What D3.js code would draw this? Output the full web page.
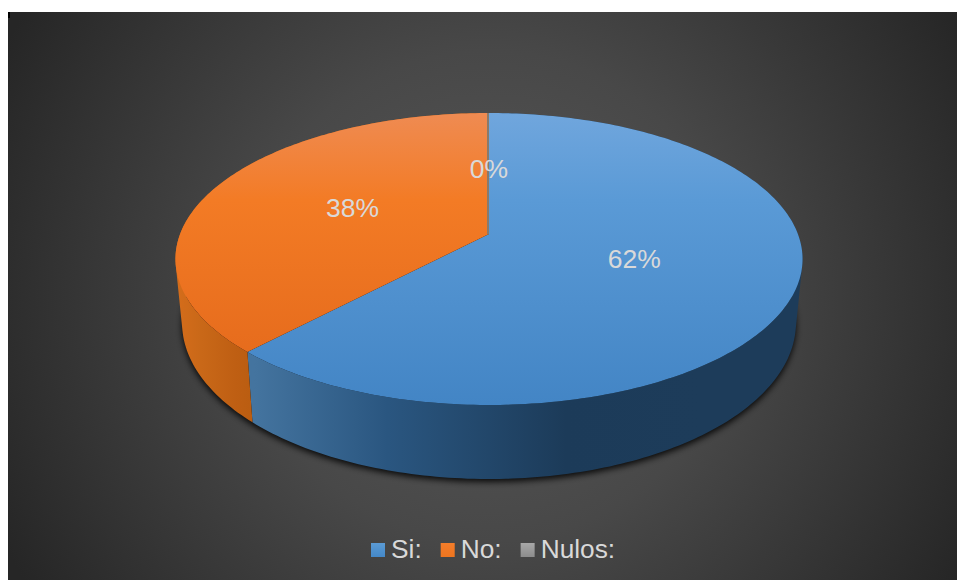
<!DOCTYPE html>
<html>
<head>
<meta charset="utf-8">
<script src="https://cdn.jsdelivr.net/npm/d3@7"></script>
<style>
  html, body { margin: 0; padding: 0; background: #fff; }
  svg { display: block; }
  text { font-family: "Liberation Sans", Arial, sans-serif; fill: #d9d9d9; }
</style>
</head>
<body>
<svg id="chart" width="957" height="580"></svg>
<script>
// Vote shares
const categories = ["Si:", "No:", "Nulos:"];
const shares = [62, 38, 0];
const shareLabels = ["62%", "38%", "0%"];

// Face and wall shades for each category
const swatchTop = ["#5b9bd5", "#f47d2a", "#a8a8a8"];
const swatchBottom = ["#4488c8", "#ee751f", "#8c8c8c"];
const faceStops = [
  ["#70a6dd", "#5a9ad6", "#4385c5"],
  ["#ef8b52", "#f37b25", "#e2671a"],
  ["#8a7a6a", "#8a7a6a", "#8a7a6a"]
];
const wallStops = [
  ["#44749f", "#2a5680", "#1c3b59", "#1d3c5a"],
  ["#d56d1b", "#c96818", "#bf5f13", "#b85c10"],
  ["#777777", "#777777", "#777777", "#777777"]
];

const width = 957, height = 580;
const svg = d3.select("#chart");
const defs = svg.append("defs");

// Perspective projection of a unit disc, for the upper rim and the lower rim
const cx = 489, tilt = 0.1712;
const upper = { k: 308.9, b: 234, c: -101.65 };
const lower = { k: 302.4, b: 296, c: -101 };
function project(disc, angle, r) {
  const u = r * Math.sin(angle), v = r * Math.cos(angle);
  const w = 1 + tilt * v;
  return [cx + disc.k * u / w, (disc.b + disc.c * v) / w];
}
const line = d3.line();
const step = Math.PI / 180;
const arcAngles = (a0, a1) => {
  const n = Math.max(1, Math.ceil((a1 - a0) / step));
  return d3.range(n + 1).map(i => a0 + (a1 - a0) * i / n);
};

// Backdrop
const glow = defs.append("radialGradient").attr("id", "backdrop")
  .attr("gradientUnits", "userSpaceOnUse")
  .attr("cx", 489).attr("cy", 296).attr("r", 545);
glow.append("stop").attr("offset", 0).attr("stop-color", "#585858");
glow.append("stop").attr("offset", 0.45).attr("stop-color", "#484848");
glow.append("stop").attr("offset", 1).attr("stop-color", "#262626");
svg.append("rect").attr("x", 8).attr("y", 12)
  .attr("width", width - 8).attr("height", height - 12)
  .attr("fill", "url(#backdrop)");
svg.append("rect").attr("x", 8).attr("y", 12).attr("width", 2).attr("height", 6).attr("fill", "#000");

// Gradients for faces and walls
const pieLayout = d3.pie().sort(null).value(d => d).startAngle(0).endAngle(2 * Math.PI);
const slices = pieLayout(shares);

categories.forEach((_, i) => {
  const face = defs.append("linearGradient").attr("id", `face${i}`)
    .attr("gradientUnits", "userSpaceOnUse")
    .attr("x1", 0).attr("x2", 0).attr("y1", 113).attr("y2", 405);
  [0, 0.3, 1].forEach((o, j) => face.append("stop").attr("offset", o).attr("stop-color", faceStops[i][j]));
  const wall = defs.append("linearGradient").attr("id", `wall${i}`)
    .attr("gradientUnits", "userSpaceOnUse")
    .attr("x1", i === 1 ? 176 : 254).attr("x2", i === 1 ? 260 : 700).attr("y1", 0).attr("y2", 0);
  [0, 0.3, 0.7, 1].forEach((o, j) => wall.append("stop").attr("offset", o).attr("stop-color", wallStops[i][j]));
  const swatch = defs.append("linearGradient").attr("id", `swatch${i}`)
    .attr("x1", 0).attr("x2", 0).attr("y1", 0).attr("y2", 1);
  swatch.append("stop").attr("offset", 0).attr("stop-color", swatchTop[i]);
  swatch.append("stop").attr("offset", 1).attr("stop-color", swatchBottom[i]);
});

// Soft shadow below the lower rim
defs.append("filter").attr("id", "soft")
  .attr("x", "-10%").attr("y", "-10%").attr("width", "120%").attr("height", "120%")
  .append("feGaussianBlur").attr("stdDeviation", 3);
svg.append("path")
  .attr("d", line(arcAngles(0, 2 * Math.PI).map(a => project(lower, a, 1))) + "Z")
  .attr("transform", "translate(0,3)")
  .attr("fill", "#000").attr("opacity", 0.85).attr("filter", "url(#soft)");

// Outer wall of a slice: one path of narrow quads, all wound the same way so
// that neither the silhouette fold nor the joins between quads show
function wallPath(s) {
  const angles = arcAngles(s.startAngle, s.endAngle);
  return angles.slice(1).map((a, j) => {
    const quad = [
      project(upper, angles[j], 1), project(upper, a, 1),
      project(lower, a, 1), project(lower, angles[j], 1)
    ];
    return line(d3.polygonArea(quad) < 0 ? quad.reverse() : quad) + "Z";
  }).join("");
}
svg.append("g").selectAll("path")
  .data(slices.filter(s => s.value > 0)).join("path")
  .attr("d", wallPath)
  .attr("fill", d => `url(#wall${d.index})`);

// Top faces; an empty share leaves only a thin radial seam
const faces = svg.append("g");
faces.selectAll("path").data(slices).join("path")
  .attr("d", d => line(
    [project(upper, 0, 0), ...arcAngles(d.startAngle, d.endAngle).map(a => project(upper, a, 1))]
  ) + "Z")
  .attr("fill", (d, i) => `url(#face${i})`)
  .attr("stroke", (d, i) => d.value === 0 ? `url(#face${i})` : "none")
  .attr("stroke-width", 2)
  .attr("transform", d => d.value === 0 ? "translate(-1,0)" : null);

// Percentage labels
svg.append("g").selectAll("text").data(slices).join("text")
  .attr("transform", d => {
    const [x, y] = project(upper, (d.startAngle + d.endAngle) / 2, 0.49);
    return `translate(${x},${y + 8})`;
  })
  .attr("text-anchor", "middle")
  .attr("font-size", 26.5)
  .text((d, i) => shareLabels[i]);

// Legend
const legend = svg.append("g");
let lx = 371;
categories.forEach((name, i) => {
  legend.append("rect").attr("x", lx).attr("y", 543).attr("width", 14).attr("height", 14)
    .attr("fill", `url(#swatch${i})`);
  const label = legend.append("text").attr("x", lx + 20).attr("y", 558)
    .attr("font-size", 26.3).text(name);
  lx += 20 + label.node().getComputedTextLength() + 19;
});
</script>
</body>
</html>
